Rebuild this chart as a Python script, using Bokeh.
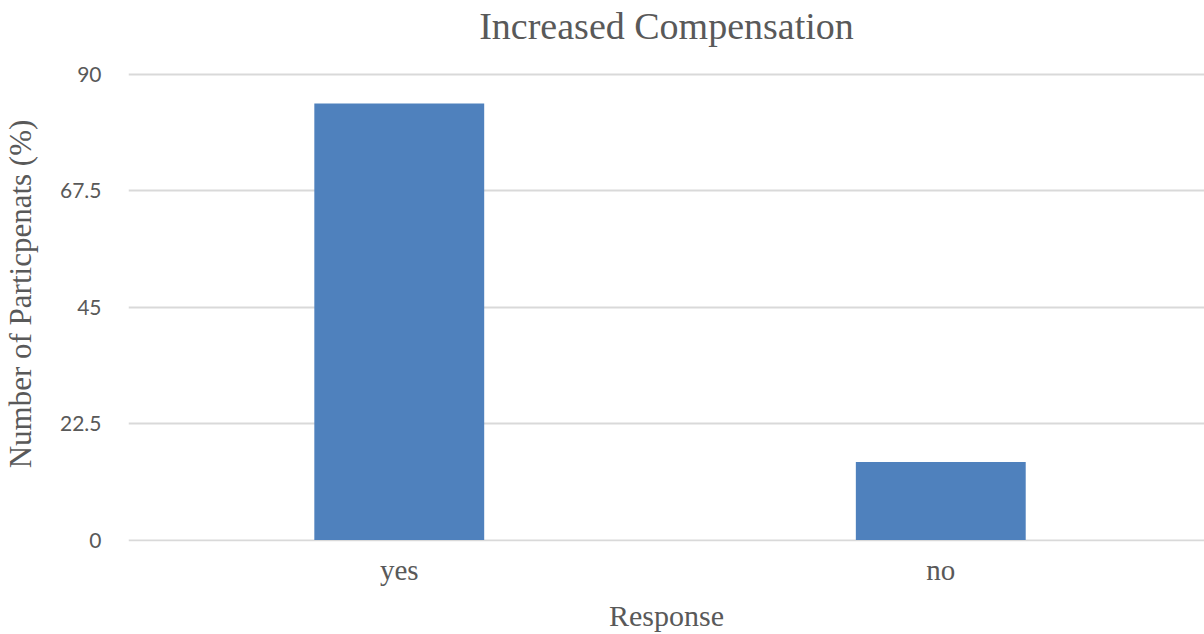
from bokeh.plotting import figure
from bokeh.models import Range1d, FixedTicker, NumeralTickFormatter, ColumnDataSource
from bokeh.embed import file_html
from bokeh.resources import INLINE
import numpy as np

# ---- data ----
categories = ["yes", "no"]
values = [84.4, 15.1]
y_ticks = [0, 22.5, 45, 67.5, 90]
title_text = "Increased Compensation"
x_label = "Response"
y_label = "Number of Particpenats (%)"

TEXT = "#595959"
BAR = "#4F81BD"
GRID = "#D9D9D9"
SERIF = "Liberation Serif"

xpos = np.arange(len(categories)) + 0.5
src = ColumnDataSource(dict(x=xpos, top=values, cat=categories))

p = figure(width=1204, height=634, output_backend="svg", toolbar_location=None,
           x_range=Range1d(0, 1.987), y_range=Range1d(-0.29, 95.42),
           min_border_left=127, min_border_right=0, min_border_top=46, min_border_bottom=0)
p.outline_line_color = None
p.background_fill_color = "white"
p.border_fill_color = "white"

p.vbar(x="x", top="top", bottom=0, width=0.3137, source=src,
       fill_color=BAR, line_color=None)

# title
p.title.text = title_text
p.title.align = "center"
p.title.text_font = SERIF
p.title.text_font_size = "38px"
p.title.text_font_style = "normal"
p.title.text_color = TEXT
p.title.standoff = 0

# x axis
xa = p.xaxis[0]
xa.ticker = FixedTicker(ticks=list(xpos))
xa.major_label_overrides = {float(x): c for x, c in zip(xpos, categories)}
xa.axis_line_color = None
xa.major_tick_line_color = None
xa.minor_tick_line_color = None
xa.major_label_text_font = SERIF
xa.major_label_text_font_size = "29px"
xa.major_label_text_color = TEXT
xa.major_label_standoff = 6
xa.axis_label = x_label
xa.axis_label_text_font = SERIF
xa.axis_label_text_font_size = "30px"
xa.axis_label_text_font_style = "normal"
xa.axis_label_text_color = TEXT
xa.axis_label_standoff = 10

# y axis
ya = p.yaxis[0]
ya.ticker = FixedTicker(ticks=y_ticks)
ya.formatter = NumeralTickFormatter(format="0.[0]")
ya.axis_line_color = None
ya.major_tick_line_color = None
ya.minor_tick_line_color = None
ya.major_label_text_font = "Lato"
ya.major_label_text_font_size = "21px"
ya.major_label_text_color = TEXT
ya.major_label_standoff = 21
ya.axis_label = y_label
ya.axis_label_text_font = SERIF
ya.axis_label_text_font_size = "31px"
ya.axis_label_text_font_style = "normal"
ya.axis_label_text_color = TEXT
ya.axis_label_standoff = 19

p.xgrid.grid_line_color = None
p.ygrid.grid_line_color = GRID
p.ygrid.grid_line_width = 2
p.ygrid.ticker = FixedTicker(ticks=y_ticks)

open("out.html", "w").write(file_html(p, INLINE))
